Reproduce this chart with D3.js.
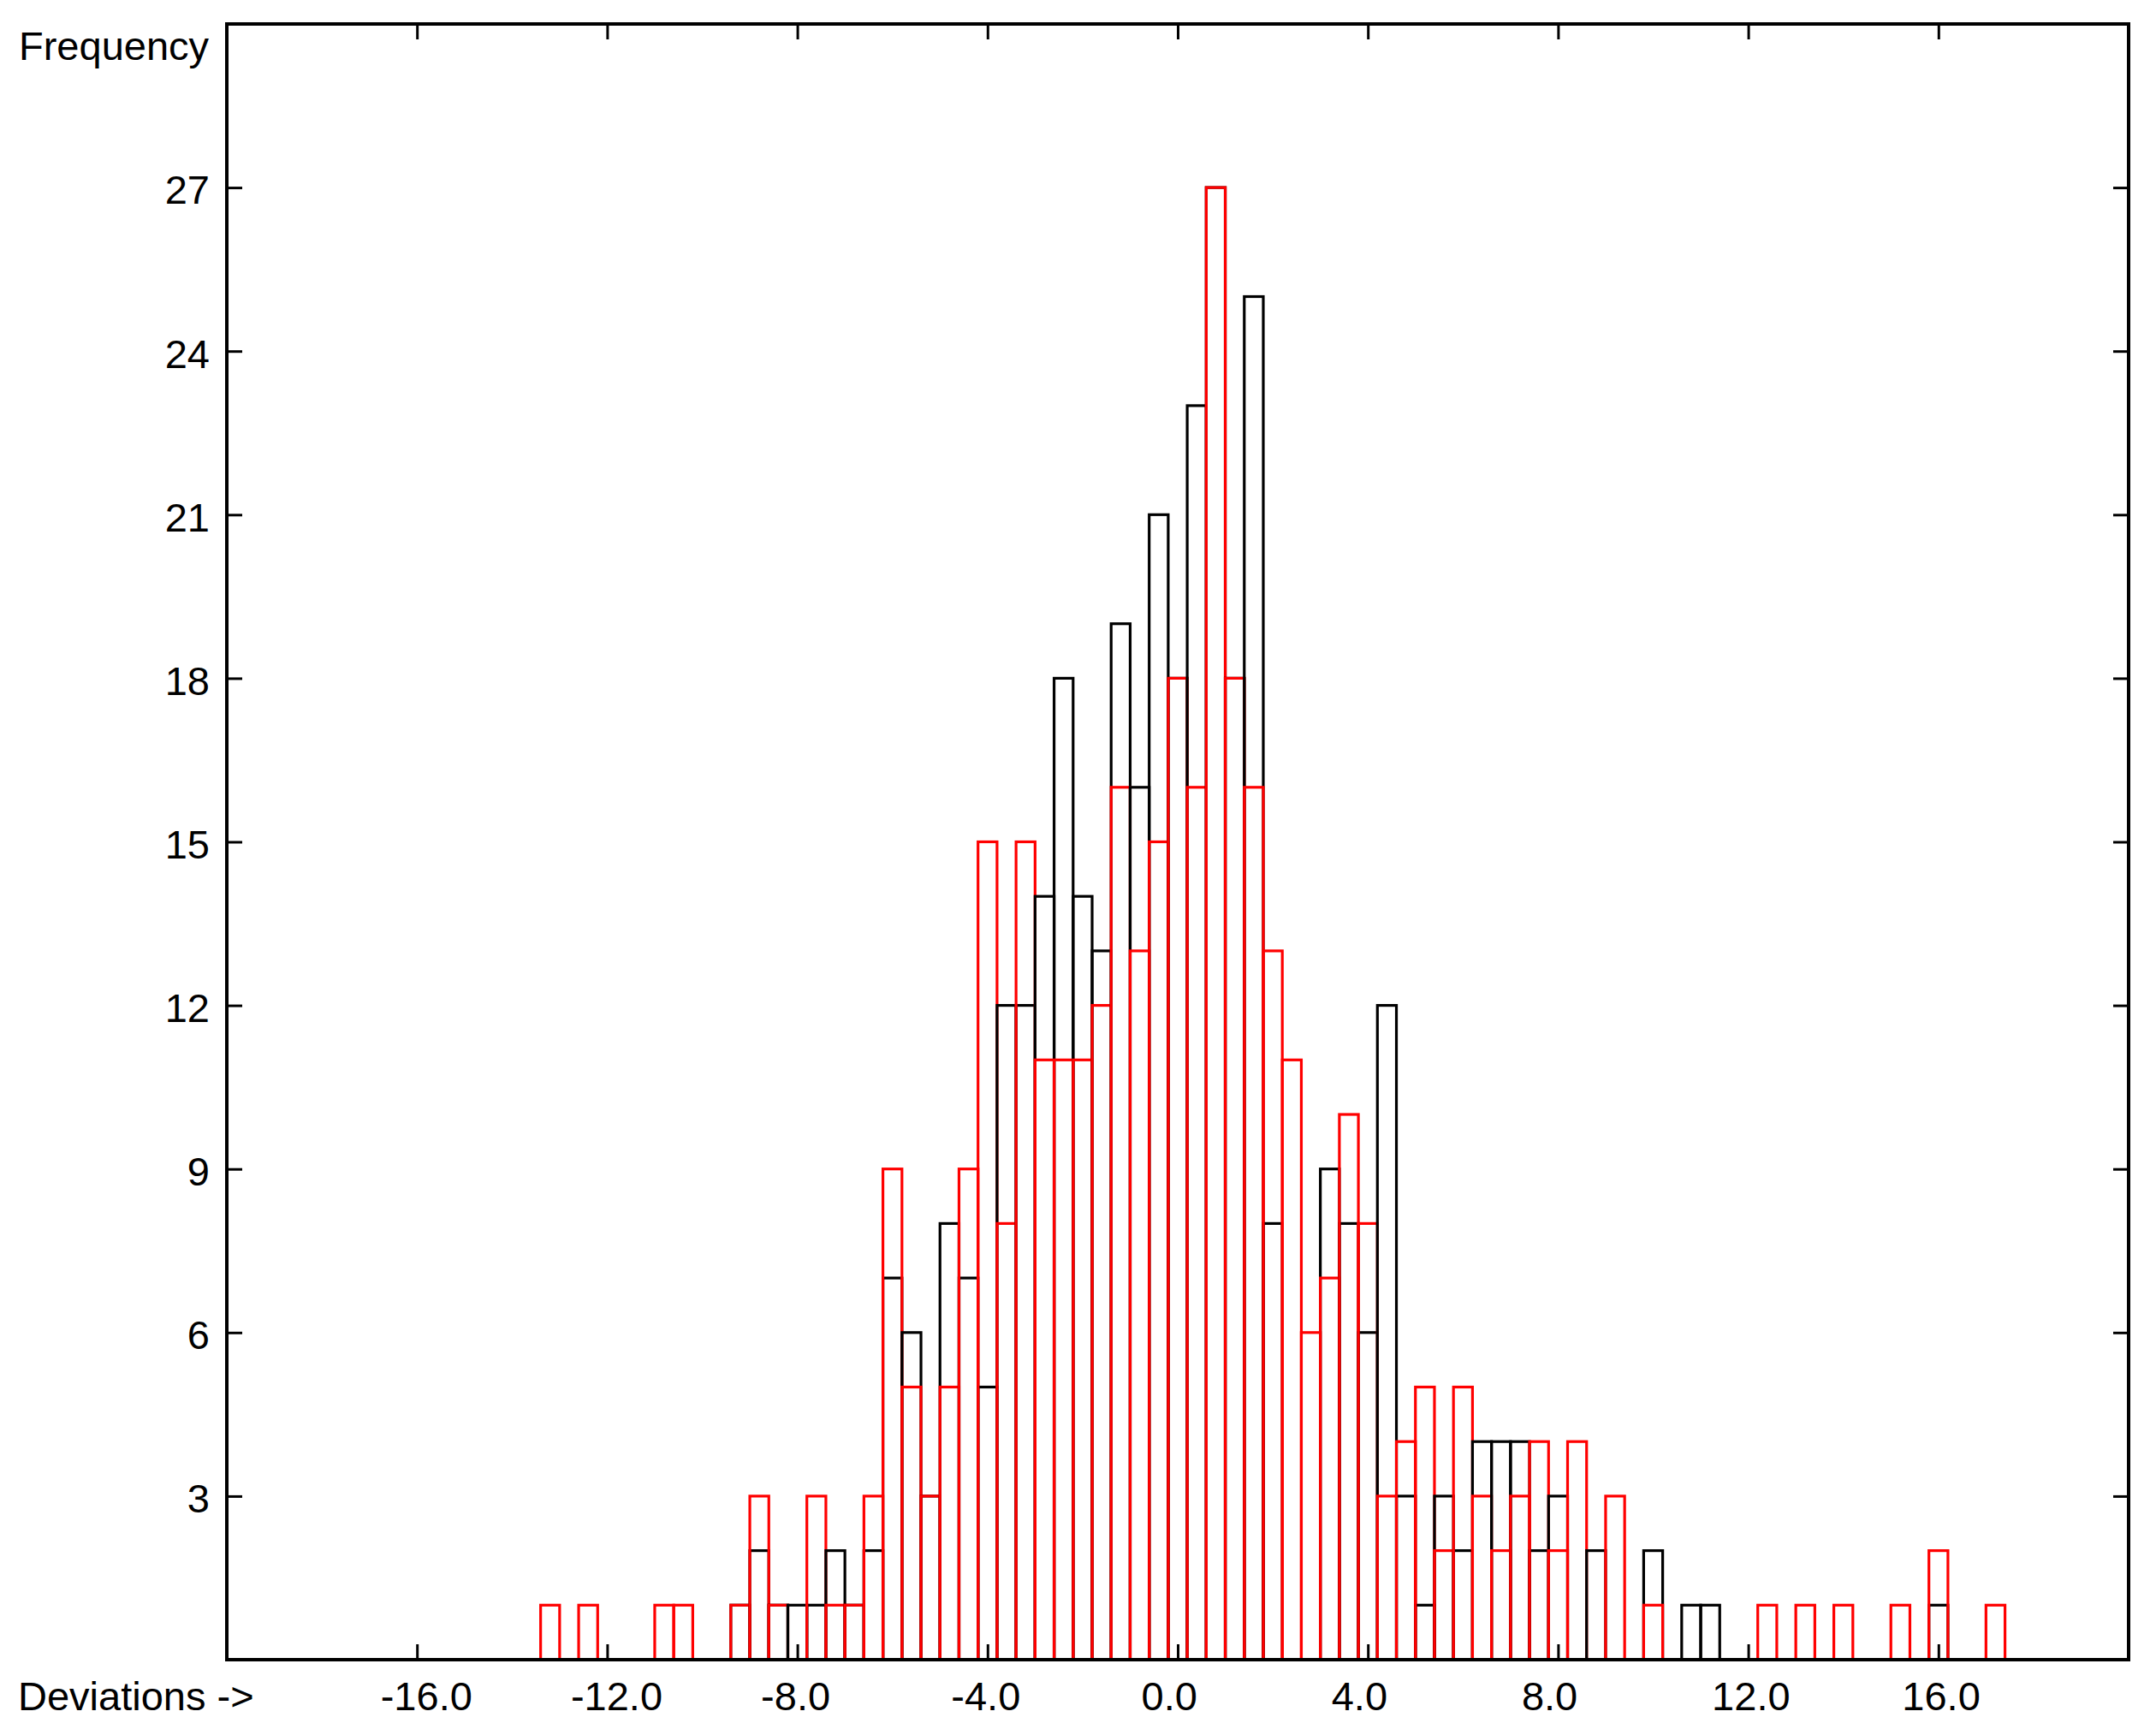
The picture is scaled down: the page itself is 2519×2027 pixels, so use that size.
<!DOCTYPE html>
<html>
<head>
<meta charset="utf-8">
<script src="https://cdn.jsdelivr.net/npm/d3@7"></script>
<style>
  html, body { margin: 0; padding: 0; background: #fff; }
  svg { display: block; }
</style>
</head>
<body>
<svg id="chart" width="2519" height="2027"></svg>
<script>
// ---- data ----
const binCenters = [-13.2, -12.4, -10.8, -10.4, -9.2, -8.8, -8.4, -8.0, -7.6, -7.2, -6.8, -6.4,
  -6.0, -5.6, -5.2, -4.8, -4.4, -4.0, -3.6, -3.2, -2.8, -2.4, -2.0, -1.6, -1.2, -0.8, -0.4,
  0.0, 0.4, 0.8, 1.2, 1.6, 2.0, 2.4, 2.8, 3.2, 3.6, 4.0, 4.4, 4.8, 5.2, 5.6, 6.0, 6.4, 6.8,
  7.2, 7.6, 8.0, 8.4, 8.8, 9.2, 10.0, 10.8, 11.2, 12.4, 13.2, 14.0, 15.2, 16.0, 17.2];
const blackCounts = [0, 0, 0, 0, 1, 2, 1, 1, 1, 2, 1, 2,
  7, 6, 3, 8, 7, 5, 12, 12, 14, 18, 14, 13, 19, 16, 21,
  18, 23, 27, 18, 25, 8, 0, 0, 9, 8, 6, 12, 3, 1, 3, 2, 4, 4,
  4, 2, 3, 0, 2, 0, 2, 1, 1, 0, 0, 0, 0, 1, 0];
const redCounts = [1, 1, 1, 1, 1, 3, 1, 0, 3, 1, 1, 3,
  9, 5, 3, 5, 9, 15, 8, 15, 11, 11, 11, 12, 16, 13, 15,
  18, 16, 27, 18, 16, 13, 11, 6, 7, 10, 8, 3, 4, 5, 2, 5, 3, 2,
  3, 4, 2, 4, 0, 3, 1, 0, 0, 1, 1, 1, 1, 2, 1];
const binWidth = 0.4;
const xTickValues = [-16, -12, -8, -4, 0, 4, 8, 12, 16];
const yTickValues = [3, 6, 9, 12, 15, 18, 21, 24, 27];
const xDomain = [-20, 20];
const yDomain = [0, 30];
const yTitle = "Frequency";
const xTitle = "Deviations ->";
const seriesColors = { black: "#000000", red: "#ff0000" };

// ---- layout ----
const W = 2519, H = 2027;
const plot = { left: 265, right: 2487, top: 28, bottom: 1939 };
const FONT = '"Liberation Sans", Arial, Helvetica, sans-serif';
const FS = 47;

const x = d3.scaleLinear().domain(xDomain).range([plot.left, plot.right]);
const y = d3.scaleLinear().domain(yDomain).range([plot.bottom, plot.top]);

const svg = d3.select("#chart");
svg.append("rect").attr("width", W).attr("height", H).attr("fill", "#fff");

// bars: for each bin, black outline first, then red outline (interleaved)
const barData = [];
binCenters.forEach((c, i) => {
  barData.push({ c, v: blackCounts[i], s: "black" });
  barData.push({ c, v: redCounts[i], s: "red" });
});

svg.append("g")
  .selectAll("rect")
  .data(barData.filter(d => d.v > 0))
  .join("rect")
  .attr("x", d => x(d.c - binWidth / 2))
  .attr("width", d => x(d.c + binWidth / 2) - x(d.c - binWidth / 2))
  .attr("y", d => y(d.v))
  .attr("height", d => y(0) - y(d.v))
  .attr("fill", "none")
  .attr("stroke", d => seriesColors[d.s])
  .attr("stroke-width", 3.2);

// frame
svg.append("rect")
  .attr("x", plot.left).attr("y", plot.top)
  .attr("width", plot.right - plot.left).attr("height", plot.bottom - plot.top)
  .attr("fill", "none").attr("stroke", "#000").attr("stroke-width", 4);

const fmt = d => d.toFixed(1);
const TICK = 18;

function styleAxis(g) {
  g.attr("font-family", FONT).attr("font-size", FS);
  g.select(".domain").remove();
  g.selectAll(".tick line").attr("stroke", "#000").attr("stroke-width", 3);
  g.selectAll(".tick text").attr("fill", "#000");
}

// bottom axis (labels)
const gB = svg.append("g")
  .attr("transform", `translate(0,${plot.bottom})`)
  .call(d3.axisBottom(x).tickValues(xTickValues).tickSize(-TICK).tickSizeOuter(0).tickFormat(fmt));
styleAxis(gB);
gB.selectAll(".tick text")
  .attr("text-anchor", "start")
  .attr("x", -43)
  .attr("y", 59)
  .attr("dy", 0);

// top axis (ticks only)
const gT = svg.append("g")
  .attr("transform", `translate(0,${plot.top})`)
  .call(d3.axisTop(x).tickValues(xTickValues).tickSize(-TICK).tickSizeOuter(0).tickFormat(""));
styleAxis(gT);

// left axis (labels)
const gL = svg.append("g")
  .attr("transform", `translate(${plot.left},0)`)
  .call(d3.axisLeft(y).tickValues(yTickValues).tickSize(-TICK).tickSizeOuter(0).tickPadding(20).tickFormat(d3.format("d")));
styleAxis(gL);
gL.selectAll(".tick text").attr("dy", "0.4em");

// right axis (ticks only)
const gR = svg.append("g")
  .attr("transform", `translate(${plot.right},0)`)
  .call(d3.axisRight(y).tickValues(yTickValues).tickSize(-TICK).tickSizeOuter(0).tickFormat(""));
styleAxis(gR);

// titles
svg.append("text")
  .attr("x", 22).attr("y", 70)
  .attr("font-family", FONT).attr("font-size", FS).attr("fill", "#000")
  .text(yTitle);
svg.append("text")
  .attr("x", 21).attr("y", 1998)
  .attr("font-family", FONT).attr("font-size", FS).attr("fill", "#000")
  .text(xTitle);
</script>
</body>
</html>
